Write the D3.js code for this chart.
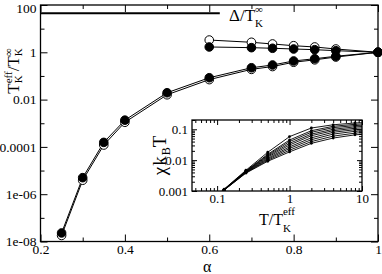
<!DOCTYPE html>
<html>
<head>
<meta charset="utf-8">
<script src="https://cdn.jsdelivr.net/npm/d3@7"></script>
<style>
  html, body { margin: 0; padding: 0; background: #fff; }
  svg { display: block; }
</style>
</head>
<body>
<svg id="chart" width="382" height="274" font-family="Liberation Serif"></svg>
<script>
// ---- data ----
const alphaLower = [0.25, 0.3, 0.35, 0.4, 0.5, 0.6, 0.7, 0.75, 0.8, 0.85, 0.9, 1];
const lowerFilled = [2.3e-8, 5.0e-6, 1.55e-4, 1.35e-3, 0.0195, 0.084, 0.222, 0.29, 0.43, 0.535, 0.68, 1];
const lowerOpen = [1.8e-8, 3.9e-6, 1.2e-4, 1.1e-3, 0.016, 0.07, 0.19, 0.25, 0.38, 0.48, 0.63, 1];

const alphaUpper = [0.6, 0.7, 0.75, 0.8, 0.85, 0.9, 1];
const upperOpen = [3.3, 2.65, 2.25, 1.9, 1.68, 1.38, 1];
const upperFilled = [1.68, 1.57, 1.48, 1.38, 1.29, 1.17, 1];

const deltaAlpha = [0.2, 0.625];
const deltaValue = [45, 45];

const xTicksMain = [0.2, 0.4, 0.6, 0.8, 1];
const xTickLabelsMain = ['0.2', '0.4', '0.6', '0.8', '1'];
const xMinorMain = [0.3, 0.5, 0.7, 0.9];
const yTicksMain = [1e-8, 1e-6, 1e-4, 1e-2, 1, 100];
const yTickLabelsMain = ['1e-08', '1e-06', '0.0001', '0.01', '1', '100'];
const yMinorMain = [1e-7, 1e-5, 1e-3, 0.1, 10];

// inset: chi kB T vs T/TK_eff
const insetT = [0.0625, 0.125, 0.25, 0.5, 1, 2, 4, 8, 16];
const insetCurves = [
  [0.0003, 0.00115, 0.0047, 0.018, 0.058, 0.11, 0.14, 0.16, 0.172],
  [0.0003, 0.00113, 0.0045, 0.0155, 0.045, 0.09, 0.125, 0.145, 0.156],
  [0.0003, 0.00112, 0.0044, 0.0145, 0.040, 0.08, 0.113, 0.132, 0.142],
  [0.0003, 0.00111, 0.0043, 0.0135, 0.035, 0.07, 0.10, 0.12, 0.13],
  [0.0003, 0.0011, 0.0042, 0.0125, 0.031, 0.062, 0.09, 0.108, 0.118],
  [0.0003, 0.0011, 0.0041, 0.0115, 0.027, 0.053, 0.08, 0.097, 0.107],
  [0.0003, 0.00109, 0.0040, 0.0107, 0.024, 0.046, 0.07, 0.086, 0.096],
  [0.0003, 0.00108, 0.0039, 0.0099, 0.021, 0.040, 0.06, 0.075, 0.085],
  [0.0003, 0.00107, 0.0038, 0.0092, 0.0185, 0.035, 0.052, 0.066, 0.075]
];
const xTicksInset = [0.1, 1, 10];
const xTickLabelsInset = ['0.1', '1', '10'];
const xMinorInset = [0.05, 0.06, 0.07, 0.08, 0.09, 0.2, 0.3, 0.4, 0.5, 0.6, 0.7, 0.8, 0.9, 2, 3, 4, 5, 6, 7, 8, 9];
const yTicksInset = [0.001, 0.01, 0.1];
const yTickLabelsInset = ['0.001', '0.01', '0.1'];
const yMinorInset = [0.002, 0.003, 0.004, 0.005, 0.006, 0.007, 0.008, 0.009,
  0.02, 0.03, 0.04, 0.05, 0.06, 0.07, 0.08, 0.09, 0.2];

const FONT = 'Liberation Serif';
const svg = d3.select('#chart');

// ---- main panel ----
const main = { left: 40.5, right: 378, top: 5, bottom: 241.5 };
const x = d3.scaleLinear().domain([0.2, 1]).range([main.left, main.right]);
const y = d3.scaleLog().domain([1e-8, 100]).range([main.bottom, main.top]);

function styleAxis(g, size) {
  g.attr('font-family', FONT);
  g.select('.domain').remove();
  g.selectAll('line').attr('stroke', '#000').attr('stroke-width', 1);
  g.selectAll('text').attr('font-size', size).attr('font-family', FONT).attr('fill', '#000');
}

// major + minor ticks on all four sides, pointing inward
function frameAxes(g, xs, ys, box, opt) {
  const w = box.right - box.left, h = box.bottom - box.top;
  g.append('g').attr('transform', `translate(0,${box.bottom})`)
    .call(d3.axisBottom(xs).tickValues(opt.xMajor).tickSize(-opt.major).tickPadding(opt.padX)
      .tickFormat((d, i) => opt.xLabels[i]))
    .call(a => styleAxis(a, opt.font));
  g.append('g').attr('transform', `translate(0,${box.bottom})`)
    .call(d3.axisBottom(xs).tickValues(opt.xMinor).tickSize(-opt.minor).tickFormat(''))
    .call(a => styleAxis(a, opt.font));
  g.append('g').attr('transform', `translate(0,${box.top})`)
    .call(d3.axisTop(xs).tickValues(opt.xMajor).tickSize(-opt.major).tickFormat(''))
    .call(a => styleAxis(a, opt.font));
  g.append('g').attr('transform', `translate(0,${box.top})`)
    .call(d3.axisTop(xs).tickValues(opt.xMinor).tickSize(-opt.minor).tickFormat(''))
    .call(a => styleAxis(a, opt.font));
  g.append('g').attr('transform', `translate(${box.left},0)`)
    .call(d3.axisLeft(ys).tickValues(opt.yMajor).tickSize(-opt.major).tickPadding(opt.padY)
      .tickFormat((d, i) => opt.yLabels[i]))
    .call(a => styleAxis(a, opt.font));
  g.append('g').attr('transform', `translate(${box.left},0)`)
    .call(d3.axisLeft(ys).tickValues(opt.yMinor).tickSize(-opt.minor).tickFormat(''))
    .call(a => styleAxis(a, opt.font));
  g.append('g').attr('transform', `translate(${box.right},0)`)
    .call(d3.axisRight(ys).tickValues(opt.yMajor).tickSize(-opt.major).tickFormat(''))
    .call(a => styleAxis(a, opt.font));
  g.append('g').attr('transform', `translate(${box.right},0)`)
    .call(d3.axisRight(ys).tickValues(opt.yMinor).tickSize(-opt.minor).tickFormat(''))
    .call(a => styleAxis(a, opt.font));
  g.append('rect')
    .attr('x', box.left).attr('y', box.top).attr('width', w).attr('height', h)
    .attr('fill', 'none').attr('stroke', '#000').attr('stroke-width', 1.3);
}

const mainG = svg.append('g');
frameAxes(mainG, x, y, main, {
  xMajor: xTicksMain, xMinor: xMinorMain, xLabels: xTickLabelsMain,
  yMajor: yTicksMain, yMinor: yMinorMain, yLabels: yTickLabelsMain,
  major: 7, minor: 4, padX: 3, padY: 4, font: 13.5
});
// keep the top label inside the picture
mainG.selectAll('text').filter(function () { return d3.select(this).text() === '100'; })
  .attr('dy', '0.55em');

// Delta / TK line
const line = d3.line().x(d => x(d[0])).y(d => y(d[1]));
mainG.append('path')
  .attr('d', line(d3.zip(deltaAlpha, deltaValue)))
  .attr('stroke', '#000').attr('stroke-width', 2).attr('fill', 'none');

// curves
const series = [
  { a: alphaLower, v: lowerOpen, open: true },
  { a: alphaLower, v: lowerFilled, open: false },
  { a: alphaUpper, v: upperOpen, open: true },
  { a: alphaUpper, v: upperFilled, open: false }
];
series.forEach(s => {
  mainG.append('path')
    .attr('d', line(d3.zip(s.a, s.v)))
    .attr('stroke', '#000').attr('stroke-width', 1).attr('fill', 'none');
});
series.filter(s => s.open).concat(series.filter(s => !s.open)).forEach(s => {
  mainG.append('g')
    .selectAll('circle')
    .data(d3.zip(s.a, s.v))
    .enter()
    .append('circle')
    .attr('cx', d => x(d[0]))
    .attr('cy', d => y(d[1]))
    .attr('r', 4.3)
    .attr('fill', s.open ? '#fff' : '#000')
    .attr('stroke', '#000')
    .attr('stroke-width', 1);
});

// text with stacked super/subscripts, pieces laid out by measured width
function richLabel(parent, pieces) {
  const t = parent.append('g').attr('font-family', FONT);
  let cx = 0;
  pieces.forEach(p => {
    if (p.stack) {
      let wmax = 0;
      p.stack.forEach(q => {
        const el = t.append('text').attr('x', cx).attr('y', q.dy)
          .attr('font-family', FONT).attr('font-size', q.size).text(q.t);
        wmax = Math.max(wmax, el.node().getComputedTextLength());
      });
      cx += wmax;
    } else {
      const el = t.append('text').attr('x', cx).attr('y', p.dy || 0)
        .attr('font-family', FONT).attr('font-size', p.size)
        .attr('letter-spacing', p.ls || 0).text(p.t);
      cx += el.node().getComputedTextLength();
    }
  });
  return { g: t, width: cx };
}

// y label (rotated)
const yl = richLabel(svg.append('g'), [
  { t: 'T', size: 17 },
  { stack: [{ t: 'eff', size: 11, dy: -7 }, { t: 'K', size: 11, dy: 3.5 }] },
  { t: '/T', size: 17 },
  { stack: [{ t: '\u221E', size: 11, dy: -7 }, { t: 'K', size: 11, dy: 3.5 }] }
]);
yl.g.attr('transform', `translate(18.5,${71 + yl.width / 2}) rotate(-90)`);

// x label
svg.append('text')
  .attr('x', (main.left + main.right) / 2 - 2).attr('y', 271.5)
  .attr('text-anchor', 'middle').attr('font-family', FONT).attr('font-size', 16).text('\u03B1');

// Delta label
const dl = richLabel(svg.append('g'), [
  { t: '\u0394/T', size: 17 },
  { stack: [{ t: '\u221E', size: 11, dy: -8 }, { t: 'K', size: 11, dy: 6 }] }
]);
dl.g.attr('transform', 'translate(229,21)');

// ---- inset ----
const ins = { left: 192, right: 362, top: 120, bottom: 191 };
const xi = d3.scaleLog().domain([0.045, 10]).range([ins.left, ins.right]);
const yi = d3.scaleLog().domain([0.001, 0.2]).range([ins.bottom, ins.top]);

const insG = svg.append('g');
insG.append('rect')
  .attr('x', ins.left).attr('y', ins.top)
  .attr('width', ins.right - ins.left).attr('height', ins.bottom - ins.top)
  .attr('fill', '#fff');

insG.append('clipPath').attr('id', 'insClip')
  .append('rect')
  .attr('x', ins.left).attr('y', ins.top)
  .attr('width', ins.right - ins.left).attr('height', ins.bottom - ins.top);

const curvesG = insG.append('g').attr('clip-path', 'url(#insClip)');
const lineI = d3.line().x(d => xi(d[0])).y(d => yi(d[1]));
insetCurves.forEach(c => {
  const pts = d3.zip(insetT, c);
  curvesG.append('path')
    .attr('d', lineI(pts))
    .attr('stroke', '#000').attr('stroke-width', 0.9).attr('fill', 'none');
  curvesG.append('g')
    .selectAll('circle')
    .data(pts)
    .enter()
    .append('circle')
    .attr('cx', d => xi(d[0]))
    .attr('cy', d => yi(d[1]))
    .attr('r', 1.4)
    .attr('fill', '#000');
});

frameAxes(insG, xi, yi, ins, {
  xMajor: xTicksInset, xMinor: xMinorInset, xLabels: xTickLabelsInset,
  yMajor: yTicksInset, yMinor: yMinorInset, yLabels: yTickLabelsInset,
  major: 5, minor: 3, padX: 3, padY: 4, font: 13
});

// inset x label
const ixl = richLabel(svg.append('g'), [
  { t: 'T/T', size: 16 },
  { stack: [{ t: 'eff', size: 11, dy: -10 }, { t: 'K', size: 11, dy: 7 }] }
]);
ixl.g.attr('transform', `translate(${(ins.left + ins.right) / 2 - ixl.width / 2},225)`);

// inset y label (rotated)
const iyl = richLabel(svg.append('g'), [
  { t: '\u03C7k', size: 19, ls: 1 },
  { t: 'B', size: 12, dy: 4 },
  { t: 'T', size: 19 }
]);
iyl.g.attr('transform', `translate(166,${(ins.top + ins.bottom) / 2 + iyl.width / 2}) rotate(-90)`);
</script>
</body>
</html>
